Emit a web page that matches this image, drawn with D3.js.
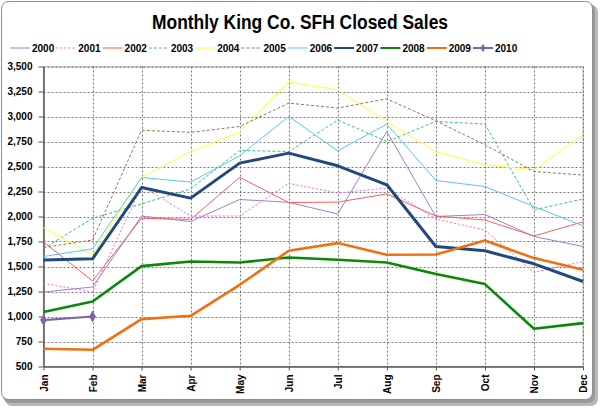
<!DOCTYPE html>
<html>
<head>
<meta charset="utf-8">
<script src="https://cdn.jsdelivr.net/npm/d3@7"></script>
<style>
html,body{margin:0;padding:0;background:#fff;}
svg{display:block;font-family:"Liberation Sans",Arial,sans-serif;}
</style>
</head>
<body>
<svg id="chart" width="600" height="408"></svg>
<script>
const months = ["Jan","Feb","Mar","Apr","May","Jun","Jul","Aug","Sep","Oct","Nov","Dec"];
const yTicks = [500,750,1000,1250,1500,1750,2000,2250,2500,2750,3000,3250,3500];

const s2000 = [1245,1295,2005,1950,2170,2142,2025,2850,2000,2020,1800,1700];
const s2001 = [1332,1245,2305,2005,2005,2332,2235,2285,1975,1865,1440,1550];
const s2002 = [1745,1355,1982,1972,2392,2140,2144,2226,2005,1965,1805,1947];
const s2003 = [1680,1982,2127,2277,2660,2650,2965,2750,2950,2925,2067,2174];
const s2004 = [1888,1617,2392,2650,2844,3345,3267,2950,2647,2517,2467,2817];
const s2005 = [1690,1765,2862,2842,2900,3134,3084,3177,2957,2717,2450,2414];
const s2006 = [1600,1677,2390,2344,2607,3000,2657,2924,2360,2300,2100,1907];
const s2007 = [1564,1577,2290,2184,2534,2634,2507,2317,1700,1657,1527,1350];
const s2008 = [1044,1150,1504,1550,1540,1590,1567,1540,1424,1324,877,934];
const s2009 = [677,667,974,1007,1317,1657,1734,1617,1620,1760,1584,1467];
const s2010 = [964,1000];

const seriesNames = ["2000","2001","2002","2003","2004","2005","2006","2007","2008","2009","2010"];
const seriesValues = [s2000,s2001,s2002,s2003,s2004,s2005,s2006,s2007,s2008,s2009,s2010];
const seriesColors = ["#a27fd0","#ff66d9","#ff5c5c","#33cc70","#ffff33","#9c7455","#55c8fa","#21497f","#088a08","#f07010","#8064a2"];
const seriesWidths = [1,1,1,1,1,1,1,3,2.6,2.6,2.2];
const seriesDash = [null,"2,2",null,"3,2",null,"3,2",null,null,null,null,null];

const svg = d3.select("#chart");

// outer frame with shadow
svg.append("rect").attr("x",5).attr("y",5).attr("width",593).attr("height",401).attr("rx",7)
  .attr("fill","#b8b8b8");
svg.append("rect").attr("x",3).attr("y",3).attr("width",592).attr("height",400).attr("rx",7)
  .attr("fill","#9a9a9a");
svg.append("rect").attr("x",1.5).attr("y",1.5).attr("width",591).attr("height",398).attr("rx",7)
  .attr("fill","#fff").attr("stroke","#8c8c8c").attr("stroke-width",1);

const L = 43.5, R = 583, T = 66.5, B = 366.5;
const x = d3.scalePoint().domain(months).range([L, R]);
const y = d3.scaleLinear().domain([500,3500]).range([B, T]);

// title
svg.append("text").attr("x",300).attr("y",29).attr("text-anchor","middle")
  .attr("font-size",20).attr("font-weight","bold").attr("fill","#000")
  .attr("textLength",296).attr("lengthAdjust","spacingAndGlyphs")
  .text("Monthly King Co. SFH Closed Sales");

// plot border (top/right light)
svg.append("rect").attr("x",L).attr("y",T).attr("width",R-L).attr("height",B-T)
  .attr("fill","none").attr("stroke","#bdbdbd").attr("stroke-width",1.2);

// gridlines
const g = svg.append("g");
g.selectAll("line.h").data(yTicks.slice(1)).join("line")
  .attr("x1",L).attr("x2",R).attr("y1",d=>Math.round(y(d))+0.5).attr("y2",d=>Math.round(y(d))+0.5)
  .attr("stroke","#555").attr("stroke-width",0.8).attr("stroke-dasharray","2,2");
g.selectAll("line.v").data(months.slice(1)).join("line")
  .attr("y1",T).attr("y2",B).attr("x1",d=>Math.round(x(d))+0.5).attr("x2",d=>Math.round(x(d))+0.5)
  .attr("stroke","#555").attr("stroke-width",0.8).attr("stroke-dasharray","2,2");

// axes
const yAxis = d3.axisLeft(y).tickValues(yTicks).tickFormat(d3.format(",")).tickSize(5).tickSizeOuter(0);
const ya = svg.append("g").attr("transform",`translate(${L},0)`).call(yAxis);
ya.selectAll("text").attr("font-size",10).attr("font-weight","bold").attr("fill","#000")
  .attr("font-family","'Liberation Sans',Arial,sans-serif").attr("dx",-3);
ya.selectAll("line").attr("stroke","#555");
ya.select(".domain").attr("stroke","#555").attr("stroke-width",1.5);

const xAxis = d3.axisBottom(x).tickSize(4).tickSizeOuter(0);
const xa = svg.append("g").attr("transform",`translate(0,${B})`).call(xAxis);
xa.select(".domain").attr("stroke","#555").attr("stroke-width",1.5);
xa.selectAll("line").attr("stroke","#555");
xa.selectAll("text").attr("font-size",10).attr("font-weight","bold").attr("fill","#000")
  .attr("font-family","'Liberation Sans',Arial,sans-serif")
  .attr("transform","rotate(-90)").attr("text-anchor","end")
  .attr("x",-8).attr("y",0).attr("dy","0.35em");

// lines
const line = d3.line().x((d,i)=>x(months[i])).y(d=>y(d));
const lg = svg.append("g");
seriesValues.forEach((vals,k)=>{
  lg.append("path").datum(vals).attr("d",line).attr("fill","none")
    .attr("stroke",seriesColors[k]).attr("stroke-width",seriesWidths[k])
    .attr("stroke-dasharray",seriesDash[k]).attr("stroke-linejoin","round");
});
// markers for 2010
lg.selectAll("path.m").data(s2010).join("path")
  .attr("d",d3.symbol().type(d3.symbolDiamond).size(40))
  .attr("transform",(d,i)=>`translate(${x(months[i])},${y(d)})`)
  .attr("fill",seriesColors[10]);

// legend
const leg = svg.append("g");
seriesNames.forEach((n,k)=>{
  const lx = 10 + k*46.3, ly = 48;
  leg.append("line").attr("x1",lx).attr("x2",lx+20).attr("y1",ly).attr("y2",ly)
    .attr("stroke",seriesColors[k]).attr("stroke-width",Math.min(seriesWidths[k],2))
    .attr("stroke-dasharray",seriesDash[k]);
  if(k===10){
    leg.append("path").attr("d",d3.symbol().type(d3.symbolDiamond).size(20))
      .attr("transform",`translate(${lx+10},${ly})`).attr("fill",seriesColors[k]);
  }
  leg.append("text").attr("x",lx+22).attr("y",ly).attr("dy","0.35em")
    .attr("font-size",10).attr("font-weight","bold").attr("fill","#000").text(n);
});
</script>
</body>
</html>
